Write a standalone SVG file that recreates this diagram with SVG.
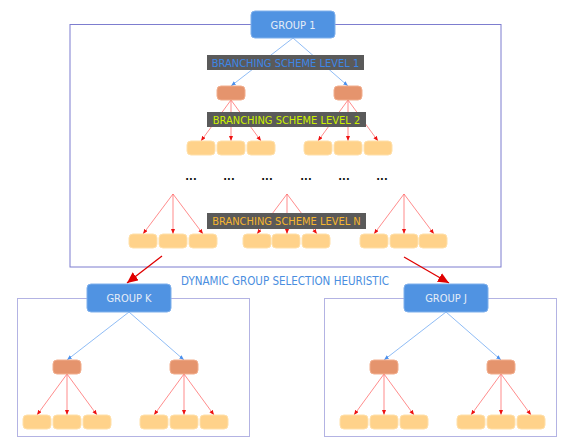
<svg xmlns="http://www.w3.org/2000/svg" width="567" height="437" viewBox="0 0 567 437">
<style>
text{font-family:"DejaVu Sans Condensed","DejaVu Sans","Liberation Sans",sans-serif;font-stretch:condensed;}
.frame{fill:none;stroke:#7d7dcf;stroke-width:1}
.subframe{fill:none;stroke:#b3b3e3;stroke-width:1}
.grp{fill:#5093e2;stroke:#7fb0ec;stroke-width:1}
.gtxt{fill:#e6edf7;font-size:11px;text-anchor:middle}
.mid{fill:#e5946d;stroke:#f2ae8e;stroke-width:1}
.leaf{fill:#ffd28a;stroke:#ffe0aa;stroke-width:1}
.lblbg{fill:#5a5a5a}
.lbl{font-size:11px;text-anchor:middle}
.blue{stroke:#5f9ff0;stroke-width:0.7;fill:none;marker-end:url(#ab)}
.red{stroke:#ff5a5a;stroke-width:0.7;fill:none;marker-end:url(#ar)}
.big{stroke:#e00000;stroke-width:1.3;fill:none;marker-end:url(#abig)}
.dots{font-size:11px;fill:#111;text-anchor:middle;font-weight:bold}
</style>
<defs>
<marker id="ab" markerUnits="userSpaceOnUse" markerWidth="6" markerHeight="6" refX="5" refY="2" orient="auto"><path d="M0,0 L5,2 L0,4 Z" fill="#4a90ee"/></marker>
<marker id="ar" markerUnits="userSpaceOnUse" markerWidth="6" markerHeight="6" refX="5" refY="2" orient="auto"><path d="M0,0 L5,2 L0,4 Z" fill="#ee1111"/></marker>
<marker id="abig" markerUnits="userSpaceOnUse" markerWidth="14" markerHeight="12" refX="11" refY="5" orient="auto"><path d="M0,0 L11,5 L0,10 Z" fill="#e00000"/></marker>
</defs>

<rect class="frame" x="70" y="24.5" width="431" height="242.5"/>
<rect class="subframe" x="17.5" y="298.5" width="232" height="138"/>
<rect class="subframe" x="324.5" y="298.5" width="232" height="138"/>

<g id="connectors">
<line class="blue" x1="293" y1="38" x2="231" y2="86"/>
<line class="blue" x1="293" y1="38" x2="348" y2="86"/>
<line class="red" x1="231" y1="100" x2="201" y2="141"/>
<line class="red" x1="231" y1="100" x2="231" y2="141"/>
<line class="red" x1="231" y1="100" x2="261" y2="141"/>
<line class="red" x1="348" y1="100" x2="318" y2="141"/>
<line class="red" x1="348" y1="100" x2="348" y2="141"/>
<line class="red" x1="348" y1="100" x2="378" y2="141"/>
<line class="red" x1="173" y1="194" x2="143" y2="234"/>
<line class="red" x1="173" y1="194" x2="173" y2="234"/>
<line class="red" x1="173" y1="194" x2="203" y2="234"/>
<line class="red" x1="287" y1="194" x2="257" y2="234"/>
<line class="red" x1="287" y1="194" x2="287" y2="234"/>
<line class="red" x1="287" y1="194" x2="317" y2="234"/>
<line class="red" x1="404" y1="194" x2="374" y2="234"/>
<line class="red" x1="404" y1="194" x2="404" y2="234"/>
<line class="red" x1="404" y1="194" x2="434" y2="234"/>
<line class="big" x1="162" y1="256" x2="127" y2="283"/>
<line class="big" x1="404" y1="257" x2="449" y2="283"/>
<line class="blue" x1="129" y1="312" x2="67" y2="360"/>
<line class="blue" x1="129" y1="312" x2="184" y2="360"/>
<line class="red" x1="67" y1="374" x2="37" y2="415"/>
<line class="red" x1="67" y1="374" x2="67" y2="415"/>
<line class="red" x1="67" y1="374" x2="97" y2="415"/>
<line class="red" x1="184" y1="374" x2="154" y2="415"/>
<line class="red" x1="184" y1="374" x2="184" y2="415"/>
<line class="red" x1="184" y1="374" x2="214" y2="415"/>
<line class="blue" x1="446" y1="312" x2="384" y2="360"/>
<line class="blue" x1="446" y1="312" x2="501" y2="360"/>
<line class="red" x1="384" y1="374" x2="354" y2="415"/>
<line class="red" x1="384" y1="374" x2="384" y2="415"/>
<line class="red" x1="384" y1="374" x2="414" y2="415"/>
<line class="red" x1="501" y1="374" x2="471" y2="415"/>
<line class="red" x1="501" y1="374" x2="501" y2="415"/>
<line class="red" x1="501" y1="374" x2="531" y2="415"/>
</g>

<g id="group1"><rect class="grp" x="251" y="11" width="84" height="27" rx="4"/><text class="gtxt" x="293" y="28.5">GROUP 1</text></g>

<g id="label1"><rect class="lblbg" x="207" y="55" width="157" height="15"/><text class="lbl" x="285.5" y="66.5" fill="#3d86e6">BRANCHING SCHEME LEVEL 1</text></g>

<g id="m1"><rect class="mid" x="217" y="86" width="28" height="14" rx="4"/></g>
<g id="m2"><rect class="mid" x="334" y="86" width="28" height="14" rx="4"/></g>

<g id="l2a"><rect class="leaf" x="187" y="141" width="28" height="14" rx="4"/></g>
<g id="l2b"><rect class="leaf" x="217" y="141" width="28" height="14" rx="4"/></g>
<g id="l2c"><rect class="leaf" x="247" y="141" width="28" height="14" rx="4"/></g>
<g id="l2d"><rect class="leaf" x="304" y="141" width="28" height="14" rx="4"/></g>
<g id="l2e"><rect class="leaf" x="334" y="141" width="28" height="14" rx="4"/></g>
<g id="l2f"><rect class="leaf" x="364" y="141" width="28" height="14" rx="4"/></g>

<g id="label2"><rect class="lblbg" x="207" y="112" width="159" height="15"/><text class="lbl" x="286.5" y="123.5" fill="#ccf000">BRANCHING SCHEME LEVEL 2</text></g>

<g id="dots">
<text class="dots" x="191" y="180">...</text>
<text class="dots" x="229" y="180">...</text>
<text class="dots" x="267" y="180">...</text>
<text class="dots" x="306" y="180">...</text>
<text class="dots" x="344" y="180">...</text>
<text class="dots" x="382" y="180">...</text>
</g>

<g id="ln1"><rect class="leaf" x="129" y="234" width="28" height="14" rx="4"/></g>
<g id="ln2"><rect class="leaf" x="159" y="234" width="28" height="14" rx="4"/></g>
<g id="ln3"><rect class="leaf" x="189" y="234" width="28" height="14" rx="4"/></g>
<g id="ln4"><rect class="leaf" x="243" y="234" width="28" height="14" rx="4"/></g>
<g id="ln5"><rect class="leaf" x="272" y="234" width="28" height="14" rx="4"/></g>
<g id="ln6"><rect class="leaf" x="302" y="234" width="28" height="14" rx="4"/></g>
<g id="ln7"><rect class="leaf" x="360" y="234" width="28" height="14" rx="4"/></g>
<g id="ln8"><rect class="leaf" x="390" y="234" width="28" height="14" rx="4"/></g>
<g id="ln9"><rect class="leaf" x="419" y="234" width="28" height="14" rx="4"/></g>

<g id="labelN"><rect class="lblbg" x="207" y="213" width="159" height="16"/><text class="lbl" x="286.5" y="225" fill="#f5b630">BRANCHING SCHEME LEVEL N</text></g>

<text id="heuristic" x="285" y="285" font-size="11.5" fill="#4a8ee0" text-anchor="middle">DYNAMIC GROUP SELECTION HEURISTIC</text>

<g id="groupK"><rect class="grp" x="87" y="284" width="84" height="28" rx="4"/><text class="gtxt" x="129" y="302">GROUP K</text></g>
<g id="k1"><rect class="mid" x="53" y="360" width="28" height="14" rx="4"/></g>
<g id="k2"><rect class="mid" x="170" y="360" width="28" height="14" rx="4"/></g>
<g id="k3"><rect class="leaf" x="23" y="415" width="28" height="14" rx="4"/></g>
<g id="k4"><rect class="leaf" x="53" y="415" width="28" height="14" rx="4"/></g>
<g id="k5"><rect class="leaf" x="83" y="415" width="28" height="14" rx="4"/></g>
<g id="k6"><rect class="leaf" x="140" y="415" width="28" height="14" rx="4"/></g>
<g id="k7"><rect class="leaf" x="170" y="415" width="28" height="14" rx="4"/></g>
<g id="k8"><rect class="leaf" x="200" y="415" width="28" height="14" rx="4"/></g>

<g id="groupJ"><rect class="grp" x="404" y="284" width="84" height="28" rx="4"/><text class="gtxt" x="446" y="302">GROUP J</text></g>
<g id="j1"><rect class="mid" x="370" y="360" width="28" height="14" rx="4"/></g>
<g id="j2"><rect class="mid" x="487" y="360" width="28" height="14" rx="4"/></g>
<g id="j3"><rect class="leaf" x="340" y="415" width="28" height="14" rx="4"/></g>
<g id="j4"><rect class="leaf" x="370" y="415" width="28" height="14" rx="4"/></g>
<g id="j5"><rect class="leaf" x="400" y="415" width="28" height="14" rx="4"/></g>
<g id="j6"><rect class="leaf" x="457" y="415" width="28" height="14" rx="4"/></g>
<g id="j7"><rect class="leaf" x="487" y="415" width="28" height="14" rx="4"/></g>
<g id="j8"><rect class="leaf" x="517" y="415" width="28" height="14" rx="4"/></g>
</svg>
